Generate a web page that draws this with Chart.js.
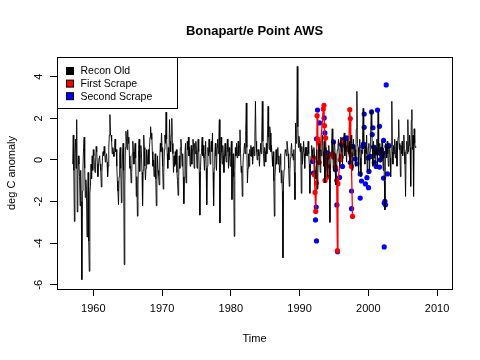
<!DOCTYPE html>
<html><head><meta charset="utf-8">
<script src="https://cdn.jsdelivr.net/npm/chart.js@4/dist/chart.umd.min.js"></script>
<style>html,body{margin:0;padding:0;background:#fff;}#wrap{width:480px;height:360px;}</style>
</head><body><div id="wrap"><canvas id="c" width="480" height="360"></canvas></div>
<script>
const chartTitle = "Bonapart/e Point AWS";
const xAxisTitle = "Time";
const yAxisTitle = "deg C anomaly";
const xTickValues = [1960, 1970, 1980, 1990, 2000, 2010];
const yTickValues = [-6, -4, -2, 0, 2, 4];
const legendLabels = ["Recon Old", "First Scrape", "Second Scrape"];
const seriesColors = ["#000000", "#ff0000", "#0000ff"];

// Recon Old: monthly values starting January 1957
const reconStartYear = 1957;
const reconValues = [
 -0.2, 1.2, -0.5, -2.95, 0.3, 1.0, -0.4, 1.94, -2.5, -1.0, 0.2, -0.2,
 -0.8, -2.2, -0.5, -2.0, -5.75, -1.5, -0.3, 0.6, 1.1, -0.4, -1.8, -0.95,
 -1.4, -3.7, -2.3, -0.6, -3.9, -5.35, -1.6, -1.27, -0.2, -0.9, 0.2, -0.5,
 0.5, 0.2, -0.3, -0.6, -0.1, 0.65, 0.4, -0.2, -0.8, -0.3, 0.1, 0.2,
 -0.2, -0.5, -1.3, -0.6, 0.1, 0.4, 0.2, 0.65, 0.3, -0.1, 0.2, 0.3,
 -0.1, -0.8, -0.3, 0.6, 1.2, 2.18, 1.2, 1.2, 0.9, 0.3, 0.6, 0.4,
 0.17, 0.6, 1.0, 0.4, 0.5, -0.3, -1.0, -1.5, -2.15, -0.8, 0.3, 0.6,
 -0.4, -2.05, -1.0, 0.3, 0.8, -0.5, -5.03, -1.2, 0.6, 1.38, 0.9, 0.5,
 1.45, 0.8, 1.1, 0.2, -0.4, -0.3, -1.1, -0.6, 0.3, 0.9, 0.4, -0.2,
 0.4, 0.8, 0.1, -1.75, -0.8, -2.7, -1.2, 0.5, 1.0, -0.55, 0.2, 0.7,
 0.3, -0.6, -2.2, -0.5, 1.2, 0.6, -0.3, -0.95, -0.4, 0.5, -0.2, 0.1,
 0.5, -0.2, 0.6, 1.1, 1.6, 1.0, 1.3, 0.4, -0.3, 0.0, -0.8, -0.4,
 0.3, -0.9, -2.2, -1.0, 0.2, -0.5, -0.75, -1.2, 0.1, 0.8, 0.4, 1.3,
 0.6, -0.3, -1.4, -0.6, 0.5, 1.2, 0.8, 2.3, 1.0, 0.3, -0.4, 0.6,
 0.0, 1.94, 0.9, 0.4, 1.2, 2.0, 0.8, 0.3, -0.6, 0.2, -0.3, 0.4,
 -0.2, 0.5, -0.6, -1.0, -1.7, -0.8, 0.2, -0.4, 0.6, 1.0, 0.4, -0.3,
 0.3, -0.8, -2.1, -0.9, 0.4, 0.8, -1.1, -0.5, 0.9, 0.5, 1.1, 0.2,
 0.6, -0.3, 0.3, 0.7, -0.2, 0.5, 1.0, 0.6, -0.4, 0.8, 0.3, 0.9,
 0.5, -0.4, 0.2, 1.0, 0.4, -0.6, -2.65, -0.5, 0.3, 0.6, 1.1, 0.2,
 0.7, 0.1, -0.5, 0.3, 0.9, -0.4, -2.15, -0.3, 0.6, 0.2, 1.0, 0.4,
 -0.2, 0.5, 0.9, 0.4, 1.3, -0.6, -2.2, -0.4, 0.3, 0.8, 0.2, -0.5,
 0.6, 1.0, 0.3, 0.8, 1.94, -3.03, -0.5, 1.1, 0.4, -0.2, 0.7, 0.2,
 -0.6, 0.3, 0.8, 0.2, -0.1, 0.5, 1.0, 0.4, -0.4, 0.6, 0.2, -0.3,
 0.4, 0.9, -1.9, -0.6, 0.3, -0.8, -3.67, -0.5, 0.6, 0.2, 0.8, 0.1,
 0.5, 0.9, 0.2, 0.7, 1.45, 0.3, -0.6, -0.3, -1.75, -0.4, 0.3, 0.5,
 0.8, 0.3, 1.4, 2.74, 0.6, -1.1, -0.4, 0.3, -0.3, 0.5, 0.2, 0.7,
 0.17, 0.6, -0.2, 0.3, 0.65, 0.2, 1.1, 2.82, 0.9, 0.4, 0.0, 0.5,
 0.5, 0.2, -0.3, 0.4, 0.8, 0.3, 1.2, 2.82, 0.9, 0.3, -0.3, 0.6,
 0.4, -0.1, 0.8, 0.3, 1.2, 2.58, 1.1, 0.5, 1.6, 1.3, 0.4, 0.7,
 0.17, -0.3, 0.4, -1.0, -2.7, -0.8, -0.3, 0.5, -0.2, 0.17, 0.6, -0.2,
 0.2, -0.6, -0.2, 0.3, -1.1, -0.5, -1.5, -4.7, -1.0, -0.45, 0.2, 0.5,
 0.4, 0.2, 0.9, 0.65, 0.3, -0.4, -1.27, -0.6, 0.1, 0.5, 0.8, 0.2,
 0.3, 0.0, 0.5, -0.6, -1.9, 1.78, 0.8, 1.5, 4.5, 1.6, 0.6, 1.14,
 0.8, 0.4, 0.8, -1.6, 0.65, -0.2, 0.4, 0.9, 0.3, -0.4, 0.6, 0.2,
 0.6, 0.2, 0.5, 0.9, 0.3, -0.2, -1.6, -0.4, 0.2, 0.7, 0.5, 0.1,
 0.1, 0.6, 0.3, -0.5, -0.9, -0.3, 0.5, -1.4, -0.6, 0.2, 0.8, 0.4,
 -0.6, 0.5, 0.2, 0.8, 1.2, 0.4, -0.3, 0.9, -1.1, -0.4, 0.6, 0.3,
 0.2, -0.8, 0.3, 0.7, -0.2, -3.0, -0.5, 0.4, 0.8, 1.5, 0.4, -0.5,
 0.6, 0.9, 0.3, -1.2, -0.4, 0.2, 0.5, 0.7, 1.0, 0.3, -0.3, 0.6,
 1.1, 0.4, 0.8, -0.2, 0.6, 1.0, 1.3, 0.2, 0.9, 0.5, -0.1, 0.7,
 1.0, 0.6, 0.3, 0.9, -0.2, 0.5, 1.2, 0.8, -0.5, 0.4, 1.0, 0.2,
 0.7, 0.5, -0.3, 1.5, 3.3, 0.8, 0.6, -0.6, 0.4, 1.0, 0.1, -0.8,
 0.5, 0.3, 1.3, 2.48, 0.9, 0.5, -0.2, 0.7, 0.3, 1.2, -0.5, 0.2,
 0.6, 0.8, -0.6, 0.4, 1.1, 2.4, 1.6, 0.6, -0.3, 0.9, 0.1, 0.5,
 -0.2, 0.7, 0.3, 1.0, -0.4, 2.3, 0.5, 0.2, 0.8, -0.1, 0.6, 0.3,
 0.9, 0.2, -0.5, 0.4, -1.0, -2.4, 0.8, 0.6, 0.1, 0.9, 0.3, -0.3,
 0.7, 0.5, 0.1, -0.8, 0.8, 2.82, 0.4, -0.2, 0.7, 0.3, 1.0, 0.1,
 0.4, 0.9, -0.3, 0.6, 1.1, 1.94, 0.5, 0.8, -0.8, 0.7, 0.3, 0.9,
 0.2, 0.6, 1.2, 0.4, -0.2, -1.75, 0.5, 0.9, 0.3, 1.94, 0.4, 0.7,
 1.2, 0.6, -1.27, 1.9, 2.42, 0.5, 1.2, -1.75, 1.5, 0.8, 0.6, 0.65
];

// First Scrape (decimal year, value)
const firstScrapeTimes = [1992.05, 1992.15, 1992.25, 1992.35, 1992.45, 1992.55, 1992.65, 1992.75, 1992.85,
 1993.45, 1993.55, 1993.62, 1993.7, 1993.78, 1993.86, 1993.94, 1994.02, 1994.1,
 1994.8, 1994.95, 1995.2, 1995.4, 1995.5, 1995.58, 1995.9, 1996.05, 1996.2,
 1996.95, 1997.15, 1997.3, 1997.38, 1997.45, 1997.55, 1997.7];
const firstScrapeValues = [0.10, -0.71, -1.56, -2.47, -1.11, 2.13, 1.01, 0.82, -0.12,
 2.45, 2.63, 1.65, -0.98, 1.06, 0.10, -0.31, -0.82, 0.14,
 0.29, 0.14, -0.34, -0.98, -4.36, -1.14, 0.01, 0.14, 0.85,
 0.50, 0.54, 2.42, 1.99, 0.25, -0.31, -2.71];

// Second Scrape (decimal year, value)
const secondScrapeTimes = [1992.61, 1992.90, 1992.46, 1991.93, 1992.02, 1992.42, 1992.32, 1992.46,
 1993.58, 1993.68, 1994.06, 1994.93, 1995.23, 1995.43, 1995.52, 1995.81, 1996.10, 1996.24,
 1996.39, 1996.64, 1996.88, 1997.22, 1997.37, 1997.56, 1997.56, 1997.76, 1998.09, 1998.34,
 1998.82, 1999.01, 1998.82, 1999.21, 1999.30, 1999.40, 1999.40, 1999.59, 1999.80, 1999.99,
 2000.03, 2000.09, 2000.28, 2000.47, 2000.57, 2000.67, 2000.76, 2000.86, 2001.00, 2001.15,
 2001.25, 2001.34, 2001.48, 2001.63, 2001.63, 2001.73, 2001.92, 2002.02, 2002.12, 2002.21,
 2002.21, 2002.31, 2002.31, 2002.41, 2002.50, 2002.60, 2002.70, 2002.79, 2003.00];
const secondScrapeValues = [2.40, 1.78, 1.02, -0.07, -0.63, -2.26, -2.88, -3.89,
 2.02, 1.30, 0.34, 0.87, -0.47, -2.16, -4.41, -0.84, 0.74, -0.31,
 0.98, 1.02, 1.06, 0.62, -0.12, -1.49, -2.34, 0.65, 0.05, -0.18,
 -0.67, -1.01, -1.83, 0.65, 0.77, 1.57, 2.21, -1.15, -0.85, 0.10,
 -1.33, -0.55, 0.17, 2.31, 1.22, 1.55, 0.62, -0.12, 0.50, -0.31,
 0.34, 2.40, 0.41, 1.62, -0.34, 0.01, 0.50, 0.17, 0.34, 0.94,
 -0.87, -2.07, -4.18, -1.99, -2.15, 3.61, 0.65, -0.67, 0.69];

const FONT = "'Liberation Sans', Arial, sans-serif";

const reconData = reconValues.map((v, i) => ({x: reconStartYear + i / 12, y: v}));
const firstData = firstScrapeTimes.map((t, i) => ({x: t, y: firstScrapeValues[i]}));
const secondData = secondScrapeTimes.map((t, i) => ({x: t, y: secondScrapeValues[i]}));

const overlay = {
  id: 'overlay',
  afterDraw(chart) {
    const {ctx, chartArea: a} = chart;
    ctx.save();
    ctx.strokeStyle = '#000';
    ctx.lineWidth = 1;
    const L = Math.round(a.left) + 0.5, T = Math.round(a.top) + 0.5;
    ctx.strokeRect(L, T, Math.round(a.right - a.left), Math.round(a.bottom - a.top));
    // title
    ctx.fillStyle = '#000';
    ctx.font = 'bold 13px ' + FONT;
    ctx.textAlign = 'center';
    ctx.textBaseline = 'middle';
    ctx.fillText(chartTitle, (a.left + a.right) / 2, 31);
    // legend
    ctx.fillStyle = '#fff';
    ctx.fillRect(L, T, 120, 51);
    ctx.strokeRect(L, T, 120, 51);
    ctx.font = '10.5px ' + FONT;
    ctx.textAlign = 'left';
    legendLabels.forEach((lab, i) => {
      const cy = T + 13.5 + i * 12.6;
      ctx.fillStyle = seriesColors[i];
      ctx.fillRect(L + 9, cy - 3.5, 7, 7);
      ctx.strokeStyle = '#000';
      ctx.strokeRect(L + 9, cy - 3.5, 7, 7);
      ctx.fillStyle = '#000';
      ctx.fillText(lab, L + 23, cy + 0.5);
    });
    ctx.restore();
  }
};

new Chart(document.getElementById('c'), {
  type: 'line',
  data: {
    datasets: [
      {label: legendLabels[0], data: reconData, borderColor: seriesColors[0], borderWidth: 0.9, pointRadius: 0, tension: 0, fill: false},
      {label: legendLabels[1], data: firstData, borderColor: seriesColors[1], backgroundColor: seriesColors[1], borderWidth: 1.3, pointRadius: 2.6, pointBorderWidth: 0, pointStyle: 'circle', tension: 0, fill: false},
      {label: legendLabels[2], data: secondData, showLine: false, borderColor: seriesColors[2], backgroundColor: seriesColors[2], pointRadius: 2.6, pointBorderWidth: 0, pointStyle: 'circle'}
    ]
  },
  options: {
    responsive: false,
    animation: false,
    devicePixelRatio: 1,
    layout: {padding: {top: 57, right: 28, bottom: 0, left: 0}},
    plugins: {legend: {display: false}, title: {display: false}, tooltip: {enabled: false}},
    scales: {
      x: {
        type: 'linear', min: 1954.72, max: 2012.17,
        afterBuildTicks: s => { s.ticks = xTickValues.map(v => ({value: v})); },
        afterFit: s => { s.height = 71; },
        grid: {display: true, drawOnChartArea: false, drawTicks: true, tickLength: 7, color: '#000'},
        border: {display: false},
        ticks: {color: '#000', font: {family: FONT, size: 11}, padding: 6, maxRotation: 0, autoSkip: false, callback: v => String(v)},
        title: {display: true, text: xAxisTitle, color: '#000', font: {family: FONT, size: 11}, padding: {top: 0, bottom: 14}}
      },
      y: {
        type: 'linear', min: -6.2, max: 4.95,
        afterBuildTicks: s => { s.ticks = yTickValues.map(v => ({value: v})); },
        afterCalculateLabelRotation: s => { s.labelRotation = 90; },
        afterFit: s => { s.width = 57; },
        grid: {display: true, drawOnChartArea: false, drawTicks: true, tickLength: 7, color: '#000'},
        border: {display: false},
        ticks: {color: '#000', font: {family: FONT, size: 11}, padding: 6, crossAlign: 'center', autoSkip: false, callback: v => String(v)},
        title: {display: true, text: yAxisTitle, color: '#000', font: {family: FONT, size: 11}, padding: {top: 5, bottom: 0}}
      }
    }
  },
  plugins: [overlay]
});
</script></body></html>
